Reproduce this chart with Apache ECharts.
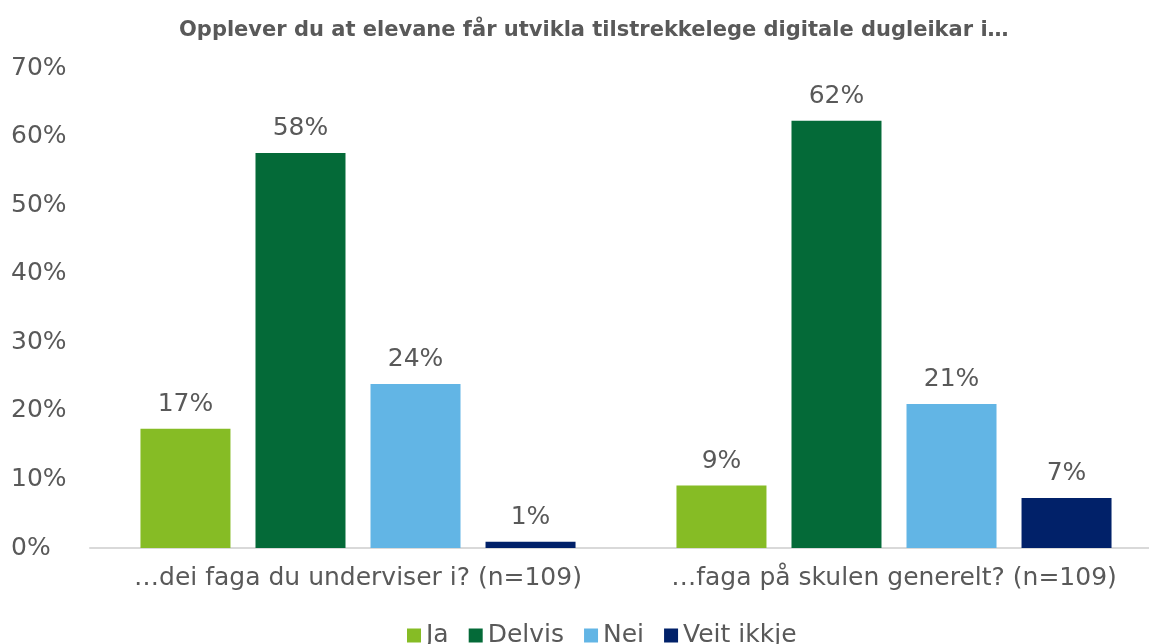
<!DOCTYPE html>
<html>
<head>
<meta charset="utf-8">
<script src="https://cdn.jsdelivr.net/npm/echarts@6/dist/echarts.min.js"></script>
<style>
    html, body { margin: 0; padding: 0; background: #fff; overflow: hidden; }
    #chart { width: 1162px; height: 644px; }
</style>
</head>
<body>
<div id="chart"></div>
<script>
// Kategoriar og verdiar (prosent)
var categories = ['…dei faga du underviser i? (n=109)', '…faga på skulen generelt? (n=109)'];
var seriesNames = ['Ja', 'Delvis', 'Nei', 'Veit ikkje'];
var ja = [17.4, 9.1];
var delvis = [57.6, 62.3];
var nei = [23.9, 21.0];
var veitIkkje = [0.9, 7.3];
var yTicks = [0, 10, 20, 30, 40, 50, 60, 70];

var colors = ['#86bc25', '#046a38', '#62b5e5', '#012169'];
var textColor = '#595959';
var font = 'DejaVu Sans, Verdana, sans-serif';

function makeSeries(name, data, i) {
    return {
        name: name,
        type: 'bar',
        data: data,
        barWidth: 90,
        barGap: '27.8%',
        itemStyle: { color: colors[i] },
        label: {
            show: true,
            position: 'top',
            distance: 12,
            color: textColor,
            fontFamily: font,
            fontSize: 25,
            formatter: function (p) { return Math.round(p.value) + '%'; }
        }
    };
}

var chart = echarts.init(document.getElementById('chart'));
chart.setOption({
    animation: false,
    title: {
        text: 'Opplever du at elevane får utvikla tilstrekkelege digitale dugleikar i…',
        left: 174,
        top: 15,
        textStyle: {
            color: textColor,
            fontFamily: font,
            fontSize: 21,
            fontWeight: 'bold'
        }
    },
    legend: {
        top: 618,
        left: 402,
        icon: 'rect',
        itemWidth: 14,
        itemHeight: 14,
        itemGap: 20,
        textStyle: { color: textColor, fontFamily: font, fontSize: 25 },
        data: seriesNames
    },
    grid: {
        left: 90,
        top: 68,
        bottom: 96,
        right: 0,
        containLabel: false
    },
    xAxis: {
        type: 'category',
        data: categories,
        axisLine: { lineStyle: { color: '#d9d9d9', width: 2 } },
        axisTick: { show: false },
        axisLabel: {
            interval: 0,
            color: textColor,
            fontFamily: font,
            fontSize: 25,
            margin: 18
        }
    },
    yAxis: {
        type: 'value',
        min: yTicks[0],
        max: yTicks[yTicks.length - 1],
        interval: 10,
        splitLine: { show: false },
        axisLine: { show: false },
        axisTick: { show: false },
        axisLabel: {
            color: textColor,
            fontFamily: font,
            fontSize: 25,
            align: 'left',
            margin: 79,
            formatter: '{value}%'
        }
    },
    series: [
        makeSeries(seriesNames[0], ja, 0),
        makeSeries(seriesNames[1], delvis, 1),
        makeSeries(seriesNames[2], nei, 2),
        makeSeries(seriesNames[3], veitIkkje, 3)
    ]
});
</script>
</body>
</html>
